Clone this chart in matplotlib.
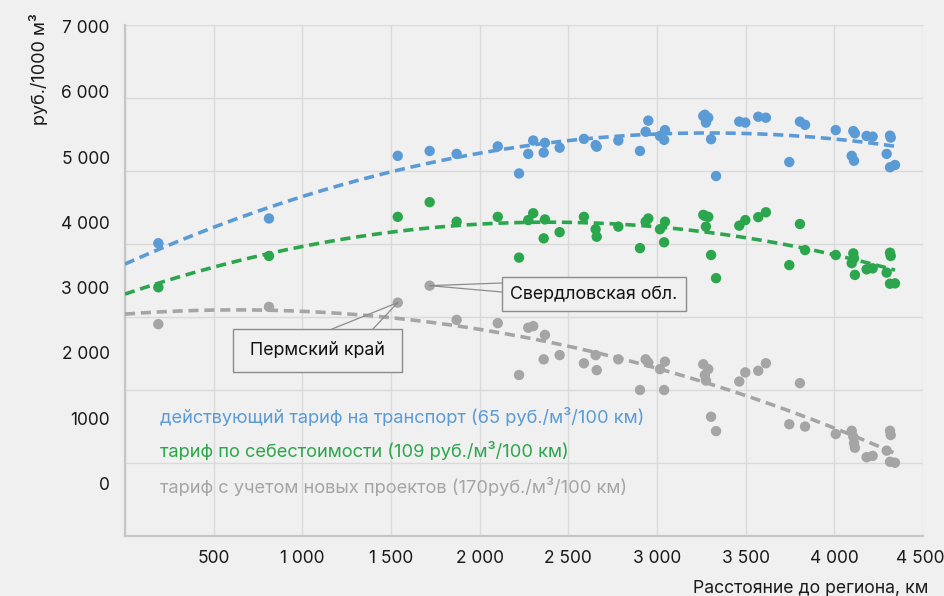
import numpy as np
import matplotlib
matplotlib.use("Agg")
import matplotlib.pyplot as plt
from matplotlib.patches import Rectangle
from matplotlib.transforms import ScaledTranslation

plt.rcParams['font.family'] = ['Inter', 'DejaVu Sans']

# ---------------- data ----------------
distance_km = [188, 812, 1538, 1718, 1870, 2102, 2222, 2274, 2302, 2361, 2368, 2451,
               2588, 2654, 2660, 2782, 2904, 2936, 2951, 3017, 3040, 3045, 3261, 3270,
               3276, 3289, 3305, 3333, 3464, 3498, 3571, 3614, 3746, 3806, 3835, 4008,
               4098, 4107, 4111, 4116, 4182, 4216, 4295, 4314, 4318, 4314, 4342]
tariff_current = [3680, 4060, 5020, 5095, 5050, 5165, 4750, 5050, 5255, 5070, 5220, 5145,
                  5280, 5185, 5160, 5255, 5095, 5390, 5560, 5325, 5265, 5415, 5630, 5650,
                  5530, 5605, 5275, 4710, 5545, 5530, 5620, 5605, 4925, 5545, 5495, 5415,
                  5020, 5400, 4945, 5365, 5325, 5315, 5050, 5330, 5300, 4845, 4880]
tariff_cost = [3005, 3485, 4085, 4310, 4010, 4085, 3460, 4035, 4140, 3755, 4045, 3850,
               4085, 3895, 3780, 3935, 3605, 4010, 4060, 3895, 3695, 4010, 4115, 4100,
               3935, 4085, 3500, 3145, 3950, 4035, 4080, 4155, 3345, 3975, 3575, 3500,
               3375, 3525, 3450, 3195, 3280, 3295, 3230, 3535, 3485, 3060, 3065]
tariff_new = [2440, 2705, 2770, 3030, 2505, 2455, 1660, 2385, 2410, 1900, 2275, 1965,
              1840, 1965, 1735, 1900, 1430, 1900, 1850, 1750, 1430, 1865, 1825, 1660,
              1575, 1750, 1020, 800, 1560, 1700, 1725, 1840, 905, 1535, 870, 755,
              805, 715, 615, 545, 400, 420, 500, 805, 740, 330, 315]

series_labels = ["действующий тариф на транспорт (65 руб./м³/100 км)",
                 "тариф по себестоимости (109 руб./м³/100 км)",
                 "тариф с учетом новых проектов (170руб./м³/100 км)"]
x_ticks = [500, 1000, 1500, 2000, 2500, 3000, 3500, 4000, 4500]
x_tick_labels = ["500", "1 000", "1 500", "2 000", "2 500", "3 000", "3 500", "4 000", "4 500"]
y_ticks = [0, 1000, 2000, 3000, 4000, 5000, 6000, 7000]
y_tick_labels = ["0", "1000", "2 000", "3 000", "4 000", "5 000", "6 000", "7 000"]
callout_perm = ("Пермский край", 1538, 2770)
callout_sverd = ("Свердловская обл.", 1718, 3030)

# ---------------- style ----------------
BG = "#f0f0f0"
colors = ["#5b9bd5", "#2ca64c", "#a5a5a5"]
W, H = 945, 596
L, R, T, B = 125, 923, 25, 536

fig = plt.figure(figsize=(W / 100, H / 100), dpi=100, facecolor=BG)
pos = [L / W, 1 - B / H, (R - L) / W, (B - T) / H]

# background grid axes
gax = fig.add_axes(pos, facecolor=BG)
gax.set_xlim(0, 4500)
gax.set_ylim(0, 7)
gax.set_xticks(np.arange(0, 4501, 500))
gax.set_yticks(np.arange(0, 8, 1))
gax.grid(True, color="#dadada", linewidth=1.0)
gax.tick_params(length=0, labelbottom=False, labelleft=False)
for s in gax.spines.values():
    s.set_visible(False)

# main axes
ax = fig.add_axes(pos, facecolor="none")
ax.set_xlim(0, 4500)
ax.set_ylim(-808, 7026)
for side in ["top", "right"]:
    ax.spines[side].set_visible(False)
for side in ["left", "bottom"]:
    ax.spines[side].set_color("#c6c6c6")
    ax.spines[side].set_linewidth(1.6)

ax.set_xticks(x_ticks)
ax.set_xticklabels(x_tick_labels)
ax.set_yticks(y_ticks)
ax.set_yticklabels(y_tick_labels)
ax.tick_params(axis="both", length=0, labelsize=12.5, colors="#1a1a1a")
ax.tick_params(axis="y", pad=11)
ax.tick_params(axis="x", pad=10)
last = ax.get_xticklabels()[-1]
last.set_transform(last.get_transform() + ScaledTranslation(-3 / 100, 0, fig.dpi_scale_trans))

x = np.array(distance_km, dtype=float)
series = [tariff_current, tariff_cost, tariff_new]
for vals, col in zip(series, colors):
    ax.scatter(x, vals, s=56, color=col, edgecolors="none", zorder=3)
for vals, col in zip(series, colors):
    coef = np.polyfit(x, np.array(vals, dtype=float), 2)
    xx = np.linspace(0, x.max(), 300)
    ax.plot(xx, np.polyval(coef, xx), color=col, linewidth=2.6,
            linestyle=(0, (2.8, 1.6)), zorder=4)

# legend-like coloured texts
for i, (lab, col) in enumerate(zip(series_labels, colors)):
    fy = (B - (417 + 35 * i)) / (B - T)
    ax.text((160 - L) / (R - L), fy, lab, transform=ax.transAxes, color=col,
            fontsize=13.2, ha="left", va="center", zorder=6)

# callouts
def frac(px, py):
    return ((px - L) / (R - L), (B - py) / (B - T))

def callout(name, xv, yv, box, anchors):
    (x0, y0, x1, y1) = box
    fx0, fy1 = frac(x0, y1)
    fx1, fy0 = frac(x1, y0)
    ax.add_patch(Rectangle((fx0, fy1), fx1 - fx0, fy0 - fy1, transform=ax.transAxes,
                           facecolor=BG, edgecolor="#8c8c8c", linewidth=1.0, zorder=7))
    ax.text((fx0 + fx1) / 2, (fy0 + fy1) / 2, name, transform=ax.transAxes,
            ha="center", va="center", fontsize=12.8, color="#111111", zorder=8)
    for (apx, apy) in anchors:
        ax.annotate("", xy=(xv, yv), xycoords="data", xytext=frac(apx, apy),
                    textcoords="axes fraction",
                    arrowprops=dict(arrowstyle="-", color="#8c8c8c", linewidth=0.9,
                                    shrinkA=0, shrinkB=0), zorder=6)

callout(callout_perm[0], callout_perm[1], callout_perm[2],
        (233, 329, 402, 372), [(332, 329), (373, 329)])
callout(callout_sverd[0], callout_sverd[1], callout_sverd[2],
        (502, 277, 686, 311), [(502, 283), (502, 292)])

# axis titles
fig.text(928 / W, 1 - 588 / H, "Расстояние до региона, км", ha="right", va="center",
         fontsize=12.7, color="#1a1a1a")
fig.text(40 / W, 1 - 13 / H, "руб./1000 м³", ha="center", va="top", rotation=90,
         fontsize=13, color="#1a1a1a")

fig.savefig("out.png", dpi=100, facecolor=BG)
